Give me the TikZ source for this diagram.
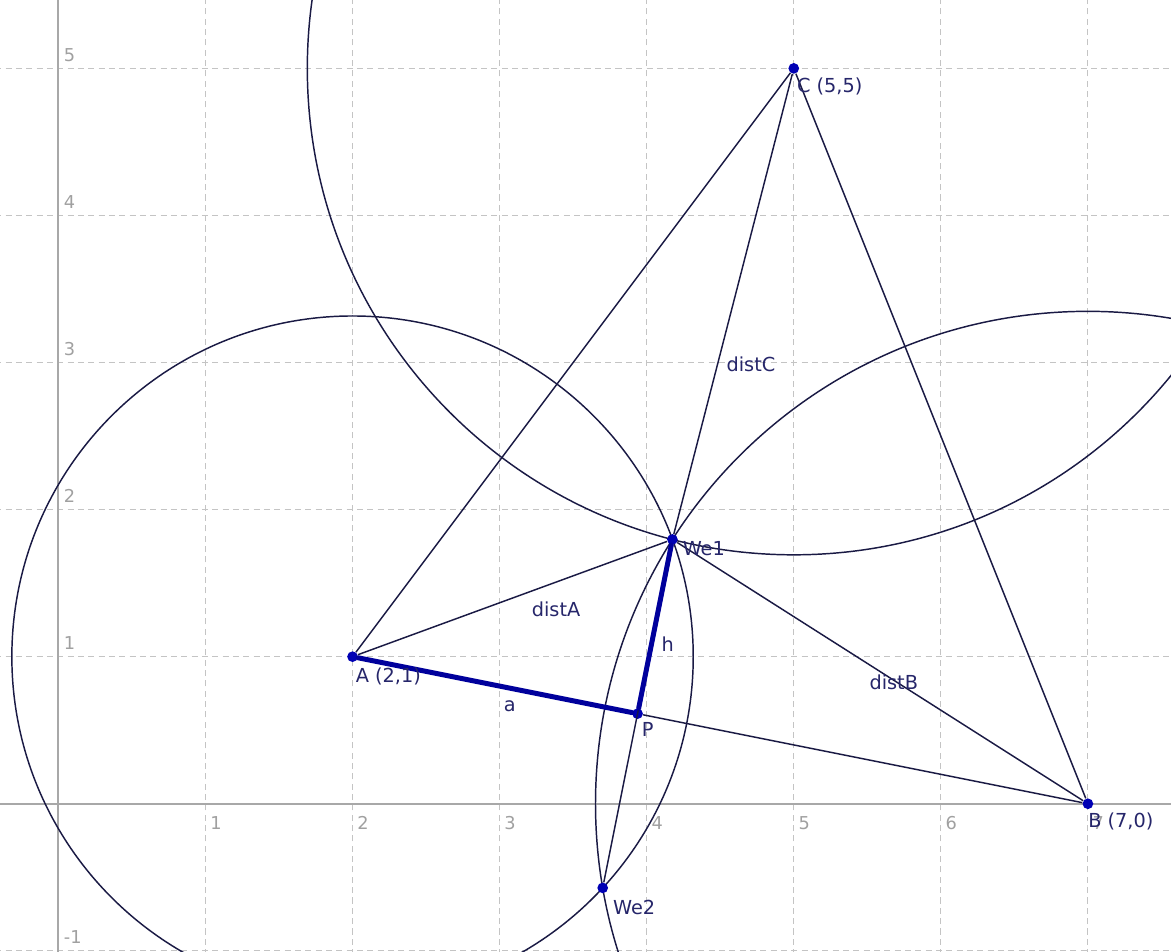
\documentclass[tikz,border=0pt]{standalone}
\usepackage{fontspec}
\setmainfont{DejaVu Sans}
\usetikzlibrary{calc,backgrounds}
\definecolor{ggLine} {HTML}{1A1A44}
\definecolor{ggBlue} {HTML}{00009C}
\definecolor{ggPoint}{HTML}{0000B4}
\definecolor{ggText} {HTML}{26266A}
\definecolor{ggGrid} {HTML}{C4C4C4}
\definecolor{ggAxis} {HTML}{A8A8A8}
\definecolor{ggTick} {HTML}{A0A0A0}

\begin{document}
\begin{tikzpicture}[x=3cm,y=3cm,
        gridln/.style={draw=ggGrid,line width=0.6pt,dash pattern=on 3.5pt off 2.5pt},
        axisln/.style={draw=ggAxis,line width=1.1pt},
        seg/.style={draw=ggLine,line width=0.85pt},
        boldseg/.style={draw=ggBlue,line width=2.9pt,line cap=round},
        ptdot/.style={circle,fill=ggPoint,inner sep=0pt,minimum size=6.2pt},
        lbl/.style={text=ggText,font=\fontsize{11.2}{13}\selectfont,inner sep=0pt,anchor=base west},
        ticklbl/.style={text=ggTick,font=\fontsize{10.3}{12}\selectfont,inner sep=0pt,anchor=base west}]
        \useasboundingbox (-0.397,-1.003) rectangle (7.565,5.465);
        % points
        \node[ptdot] (A) at (2,1) {};
        \node[ptdot] (B) at (7,0) {};
        \node[ptdot] (C) at (5,5) {};
        \node[ptdot] (We1) at (4.175,1.797) {};
        \node[ptdot] (P) at ($(A)!(We1)!(B)$) {};
        \node[ptdot] (We2) at ($(We1)!2!(P)$) {};
        % grid, axes and circles
        \begin{scope}[on background layer]
          \clip (-0.397,-1.003) rectangle (7.565,5.465);
          \foreach \k in {1,...,7} \draw[gridln] (\k,-1.1) -- (\k,5.6);
          \foreach \k in {-1,1,2,3,4,5} \draw[gridln] (-0.5,\k) -- (7.7,\k);
          \draw[axisln] (-0.5,0) -- (7.7,0);
          \draw[axisln] (0,-1.1) -- (0,5.6);
          \draw[seg] let \p1=($(We1)-(A)$),\n1={veclen(\x1,\y1)} in (A) circle (\n1);
          \draw[seg] let \p1=($(We1)-(B)$),\n1={veclen(\x1,\y1)} in (B) circle (\n1);
          \draw[seg] let \p1=($(We1)-(C)$),\n1={veclen(\x1,\y1)} in (C) circle (\n1);
        \end{scope}
        \foreach \k in {1,...,7} \node[ticklbl,xshift=2.6pt,yshift=-15pt] (tx\k) at (\k,0) {\k};
        \foreach \k in {-1,1,2,3,4,5} \node[ticklbl,xshift=3pt,yshift=4pt] (ty\k) at (0,\k) {\k};
        % triangle and distances
        \draw[seg] (A) -- (C);
        \draw[seg] (C) -- (B);
        \draw[seg] (P) -- (B);
        \draw[seg] (A) -- (We1);
        \draw[seg] (B) -- (We1);
        \draw[seg] (C) -- (We1);
        \draw[seg] (We1) -- (We2);
        \draw[boldseg] (A) -- (P);
        \draw[boldseg] (We1) -- (P);
        % labels
        \node[lbl,xshift=1.7pt,yshift=-13.9pt] (lC) at (C) {C (5,5)};
        \node[lbl,xshift=5.8pt,yshift=-9.3pt] (lWe1) at (We1) {We1};
        \node[lbl,xshift=1.7pt,yshift=-15.1pt] (lA) at (A) {A (2,1)};
        \node[lbl,xshift=2.3pt,yshift=-13.3pt] (lP) at (P) {P};
        \node[lbl,xshift=0pt,yshift=-13.9pt] (lB) at (B) {B (7,0)};
        \node[lbl,xshift=5.8pt,yshift=-15.6pt] (lWe2) at (We2) {We2};
        \node[lbl] (dC) at (4.541,2.938) {distC};
        \node[lbl] (dA) at (3.217,1.274) {distA};
        \node[lbl] (dB) at (5.513,0.778) {distB};
        \node[lbl] (lh) at (4.100,1.036) {h};
        \node[lbl] (la) at (3.026,0.628) {a};
      \end{tikzpicture}
\end{document}
